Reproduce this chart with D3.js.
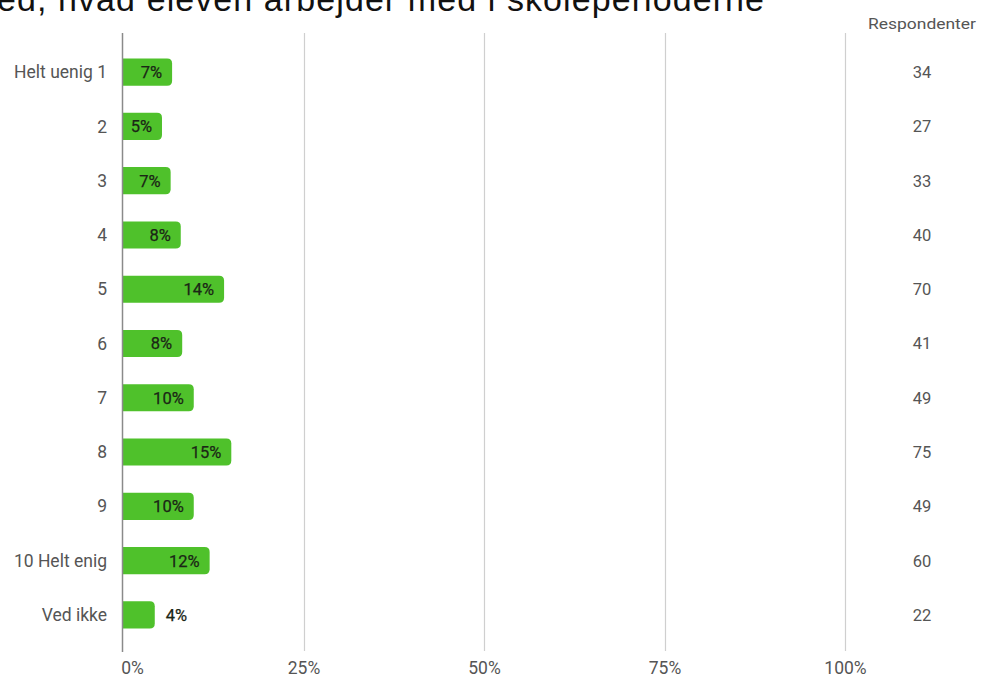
<!DOCTYPE html>
<html><head><meta charset="utf-8">
<script src="https://cdn.jsdelivr.net/npm/d3@7"></script>
<style>
html,body{margin:0;padding:0;background:#fff;overflow:hidden}
svg{display:block}
</style></head>
<body>
<svg id="c" width="982" height="682"></svg>
<script>
const titleText = "ed, hvad eleven arbejder med i skoleperioderne";
const categories = ["Helt uenig 1","2","3","4","5","6","7","8","9","10 Helt enig","Ved ikke"];
const percents = [6.8,5.4,6.6,8,14,8.2,9.8,15,9.8,12,4.4];
const respondents = [34,27,33,40,70,41,49,75,49,60,22];
const xTicks = [0,25,50,75,100];
const countHeader = "Respondenter";

const svg = d3.select("#c");
const x = d3.scaleLinear().domain([0,100]).range([123,845]);
const y = d3.scaleBand().domain(categories).range([45,642]).paddingInner(0.5).paddingOuter(0.25);

svg.append("text").attr("x",-3).attr("y",11)
  .attr("font-family","Liberation Sans, Arial, sans-serif").attr("font-size",34)
  .attr("fill","#111").attr("textLength",767).attr("lengthAdjust","spacing").text(titleText);

// grid
svg.append("g").selectAll("line").data(xTicks.slice(1)).join("line")
  .attr("x1",d=>Math.round(x(d))+0.5).attr("x2",d=>Math.round(x(d))+0.5)
  .attr("y1",33).attr("y2",651).attr("stroke","#cfcfcf").attr("stroke-width",1.2);

// x axis labels
const xa = svg.append("g").attr("transform","translate(0,651)")
  .call(d3.axisBottom(x).tickValues(xTicks).tickFormat(d=>d+"%").tickSize(0).tickPadding(11));
xa.select(".domain").remove();
xa.selectAll("text").attr("font-family","Roboto, sans-serif").attr("font-size",17.5).attr("fill","#555")
  .attr("transform",d=>d===0?"translate(9,0)":"");

// bars (right-rounded)
const bh = y.bandwidth();
const r = 5;
function barPath(d,i){
  const x0 = x(0), x1 = x(percents[i]), y0 = y(d), h = bh;
  return `M${x0},${y0}H${x1-r}Q${x1},${y0} ${x1},${y0+r}V${y0+h-r}Q${x1},${y0+h} ${x1-r},${y0+h}H${x0}Z`;
}
svg.append("g").selectAll("path").data(categories).join("path")
  .attr("d",barPath).attr("fill","#4fc12b");

// axis line
svg.append("line").attr("x1",122.5).attr("x2",122.5).attr("y1",33).attr("y2",652)
  .attr("stroke","#8a8a8a").attr("stroke-width",1.5);

// y labels
const ya = svg.append("g").attr("transform","translate(107,0)")
  .call(d3.axisLeft(y).tickSize(0).tickPadding(0));
ya.select(".domain").remove();
ya.selectAll("text").attr("font-family","Roboto, sans-serif").attr("font-size",17.5).attr("fill","#555").attr("dy","0.35em");

// value labels
svg.append("g").selectAll("text").data(categories).join("text")
  .attr("x",(d,i)=> percents[i] < 5 ? x(percents[i])+11 : x(percents[i])-10)
  .attr("text-anchor",(d,i)=> percents[i] < 5 ? "start" : "end")
  .attr("y",d=>y(d)+bh/2).attr("dy","0.36em")
  .attr("font-family","Roboto, sans-serif").attr("font-size",16.5)
  .attr("fill","#1b2616").attr("stroke","#1b2616").attr("stroke-width",0.25).text((d,i)=>Math.round(percents[i])+"%");

// respondents
svg.append("text").attr("x",922).attr("y",29).attr("text-anchor","middle")
  .attr("font-family","Roboto, sans-serif").attr("font-size",15).attr("fill","#555")
  .attr("textLength",108).attr("lengthAdjust","spacingAndGlyphs").text(countHeader);
svg.append("g").selectAll("text").data(categories).join("text")
  .attr("x",922).attr("y",d=>y(d)+bh/2).attr("dy","0.36em").attr("text-anchor","middle")
  .attr("font-family","Roboto, sans-serif").attr("font-size",16.5).attr("fill","#555")
  .text((d,i)=>respondents[i]);
</script>
</body></html>
